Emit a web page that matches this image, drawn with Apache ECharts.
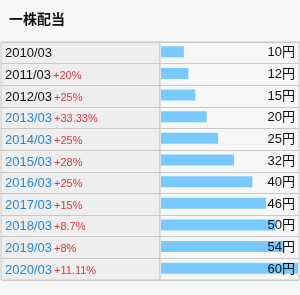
<!DOCTYPE html>
<html>
<head>
<meta charset="utf-8">
<script src="https://cdn.jsdelivr.net/npm/echarts@6/dist/echarts.min.js"></script>
<style>
html,body{margin:0;padding:0;background:#f7f7f7;}
#c{width:300px;height:295px;}
</style>
</head>
<body>
<div id="c"></div>
<script>
var titleText = '一株配当';
var periods = ['2010/03','2011/03','2012/03','2013/03','2014/03','2015/03','2016/03','2017/03','2018/03','2019/03','2020/03'];
var changes = ['','+20%','+25%','+33.33%','+25%','+28%','+25%','+15%','+8.7%','+8%','+11.11%'];
var values = [10,12,15,20,25,32,40,46,50,54,60];
var linkedFrom = 3; // rows from this index are shown as links (blue)
var unit = '円';

var FONT = "'Liberation Sans','Noto Sans CJK JP',sans-serif";
var chart = echarts.init(document.getElementById('c'), null, {renderer:'canvas'});
var top0 = 42, h = 238;
var splitCfg = {show:true, interval:0, lineStyle:{color:'#c8c8c8', width:1}};
chart.setOption({
  backgroundColor:'#f7f7f7',
  animation:false,
  title:{text:titleText, left:4, top:7, textStyle:{fontSize:14, fontWeight:'bold', color:'#111', fontFamily:"'Noto Sans CJK JP',sans-serif"}},
  grid:[
    {left:1, width:159, top:top0, height:h, show:true, backgroundColor:'#eeeeee', borderColor:'#c8c8c8', borderWidth:1},
    {left:160, width:139, top:top0, height:h, show:true, backgroundColor:'#f7f7f7', borderColor:'#c8c8c8', borderWidth:1},
    {left:161, width:137, top:top0-1, height:h}
  ],
  xAxis:[
    {gridIndex:0, type:'value', show:false, min:0, max:1},
    {gridIndex:1, type:'value', show:false, min:0, max:1},
    {gridIndex:2, type:'value', show:false, min:0, max:60}
  ],
  yAxis:[
    {gridIndex:0, type:'category', inverse:true, data:periods, position:'left',
     axisLine:{show:false}, axisTick:{show:false}, splitLine:splitCfg,
     axisLabel:{inside:true, interval:0, margin:4, fontFamily:FONT,
       formatter:function(v,i){
         var d = i>=linkedFrom ? '{u|'+v+'}' : '{a|'+v+'}';
         return changes[i] ? d+'{p|'+changes[i]+'}' : d;
       },
       rich:{
         a:{fontSize:13, color:'#111', fontFamily:FONT, padding:[2,0,0,0]},
         u:{fontSize:13, color:'#2488d8', fontFamily:FONT, padding:[2,0,0,0]},
         p:{fontSize:11, color:'#d8363a', fontFamily:FONT, padding:[3,0,0,2]}
       }}},
    {gridIndex:1, type:'category', inverse:true, data:periods, position:'right', z:10,
     axisLine:{show:false}, axisTick:{show:false}, splitLine:splitCfg,
     axisLabel:{inside:true, interval:0, margin:4, fontSize:13, color:'#111', fontFamily:FONT, padding:[2,0,0,0],
       formatter:function(v,i){ return values[i]+unit; }}},
    {gridIndex:2, type:'category', inverse:true, data:periods, show:false}
  ],
  series:[
    {type:'bar', xAxisIndex:2, yAxisIndex:2, data:values, barWidth:11, itemStyle:{color:'#78c9ff'}, z:2}
  ]
});
</script>
</body>
</html>
